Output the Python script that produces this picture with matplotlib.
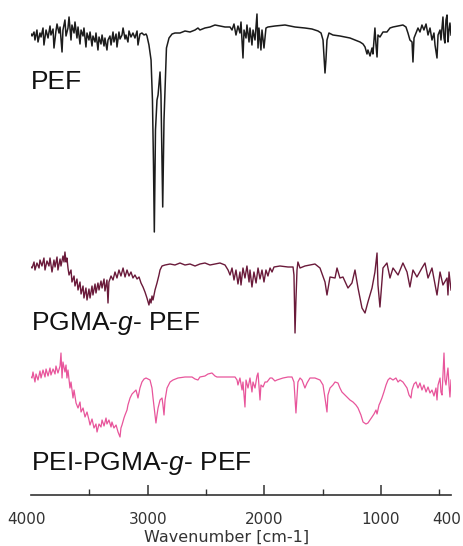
import numpy as np
import matplotlib
matplotlib.use("Agg")
import matplotlib.pyplot as plt
from matplotlib.transforms import ScaledTranslation

# FT-IR spectra: wavenumber [cm-1] and relative transmittance (a.u.)
pef_wn = [4000, 3991, 3974, 3966, 3949, 3940, 3923, 3914, 3897, 3889, 3871, 3854, 3837, 3829,
          3811, 3803, 3786, 3777, 3760, 3751, 3734, 3726, 3709, 3700, 3683, 3674, 3657, 3649,
          3631, 3623, 3606, 3597, 3580, 3571, 3554, 3546, 3529, 3520, 3503, 3494, 3477, 3469,
          3451, 3443, 3426, 3417, 3400, 3391, 3374, 3366, 3349, 3340, 3323, 3314, 3297, 3289,
          3271, 3263, 3246, 3237, 3220, 3211, 3194, 3186, 3169, 3160, 3143, 3126, 3109, 3091,
          3083, 3066, 3049, 3031, 3014, 3006,
          2989, 2971, 2959, 2950, 2943, 2933, 2920, 2911, 2899, 2894, 2886, 2871, 2860, 2851,
          2839, 2817, 2791,
          2766, 2723, 2680, 2637, 2594, 2569, 2552, 2509, 2466, 2423, 2380, 2337, 2294,
          2277, 2260, 2243, 2226, 2209, 2200, 2183, 2174, 2157, 2149, 2131, 2123, 2106, 2097,
          2080, 2063, 2054, 2046, 2029, 2020, 2003, 1986, 1969,
          1909, 1823, 1737, 1652, 1592, 1540, 1514, 1497, 1489, 1480, 1472, 1463, 1446, 1412,
          1352, 1309, 1266, 1223, 1180, 1154, 1137, 1120, 1112, 1094, 1077, 1069, 1052, 1043,
          1034, 1026, 1009, 983, 949, 923, 897, 854, 812, 786, 769, 752, 734, 726, 717, 700,
          683, 666, 649, 632, 614, 597, 580, 563, 546, 537, 520, 511, 494, 486, 469, 460, 452,
          443, 434, 426, 417, 409, 400]
pef_t = [1, -1, 3, -5, 5, -7, 2, -2, 7, -10, 5, -3, 9, 0,
         6, -13, 4, 11, 2, 8, -17, 5, 15, -1, 7, 18, -5, 10,
         2, 13, -3, 8, -9, 5, -1, 7, -12, 2, -5, 3, -11, -1,
         -7, 2, -15, -2, -9, 0, -11, -3, -15, -5, -1, -10, 3, -7,
         1, -12, 3, -4, 0, 7, -4, 0, -7, 4, -2, 2, -3, 4,
         -10, 1, 2, 0, 1, -1,
         -10, -25, -65, -130, -197, -95, -65, -60, -43, -37, -60, -172, -85, -53,
         -13, -3, 1,
         2, 2, 4, 3, 5, 7, 5, 7, 8, 10, 9, 8, 8,
         5, 11, 0, 9, 2, 13, -23, 5, -3, 10, -7, 7, -10, 5,
         -5, 21, -13, 7, -15, 5, -13, 7, 8,
         9, 10, 8, 7, 6, 4, 2, -5, -20, -38, -25, -5, 2, 0,
         -1, -2, -3, -5, -7, -9, -12, -19, -15, -21, -13, -19, 7, -10,
         -22, 0, -2, 3, 3, 7, 8, 9, 10, 8, 2, -5, -7, -27, -3, 2,
         7, 3, 10, 5, 11, 0, 7, -5, 2, -10, -23, 0, 5, -5, 18, -3, -8,
         15, 20, -7, 5, 12, 0]

pgma_wn = [4000, 3991, 3974, 3966, 3949, 3931, 3923, 3906, 3889, 3880, 3863, 3846, 3837, 3820,
           3803, 3794, 3777, 3769, 3751, 3743, 3726, 3717, 3709, 3700, 3692, 3683, 3674, 3657,
           3649, 3631, 3623, 3606, 3597, 3580, 3571, 3554, 3546, 3529, 3520, 3503, 3494, 3477,
           3469, 3451, 3443, 3426, 3417, 3400, 3391, 3374, 3366, 3349, 3340, 3332, 3314, 3297,
           3280, 3263, 3246, 3229, 3211, 3194, 3177, 3160, 3143, 3126, 3109, 3091, 3074, 3057,
           3040, 3023, 3006, 2989, 2980, 2971, 2963, 2954, 2937, 2920, 2903, 2894, 2877, 2851,
           2808, 2766, 2723, 2680, 2637, 2594, 2552, 2509, 2466, 2423, 2380, 2337, 2311, 2294,
           2277, 2260, 2243, 2226, 2209, 2200, 2183, 2166, 2149, 2131, 2123, 2106, 2089, 2071,
           2054, 2037, 2020, 2003, 1986, 1969, 1951, 1934, 1917, 1866, 1797, 1754, 1746, 1737,
           1729, 1720, 1712, 1694, 1652, 1609, 1566, 1523, 1480, 1463, 1437, 1394, 1377, 1352,
           1326, 1283, 1249, 1223, 1197, 1163, 1137, 1112, 1077, 1052, 1034, 1026, 1009, 983,
           949, 923, 897, 854, 812, 777, 752, 726, 692, 649, 623, 597, 563, 520, 494, 469, 434,
           426, 417, 400]
pgma_t = [-2, -3, 3, -5, 2, -3, 5, -1, 7, -5, 4, -1, 7, -7,
          5, -2, 8, -5, 6, -1, 9, 3, 13, 3, 7, -3, -10, -5,
          -17, -11, -21, -14, -25, -17, -29, -21, -33, -23, -35, -24, -33, -21,
          -30, -19, -28, -18, -25, -16, -23, -14, -26, -15, -38, -17, -11, -15,
          -7, -13, -5, -11, -3, -12, -5, -11, -7, -13, -10, -14, -12, -18,
          -22, -27, -33, -40, -34, -38, -31, -35, -25, -18, -10, -5, -1, 0,
          1, 0, 2, 0, 1, -1, 1, 2, 0, 1, 2, 0, -5, -10,
          -3, -15, -5, -19, -7, -20, -3, -13, -1, -17, -5, -22, -7, -18,
          -3, -14, -5, -17, -5, -11, -3, -7, -2, -1, -2, -2, -10, -68,
          -35, -5, 3, -3, -1, 0, 1, -3, -17, -30, -12, -13, -3, -13,
          -12, -23, -18, -5, -23, -43, -48, -37, -23, -7, 12, -20, -42, -3,
          2, -13, -3, -10, 2, -7, -22, -5, -12, -3, 2, -13, -3, -30, -7, -20, -13,
          -30, -7, -25]

pei_wn = [4000, 3991, 3983, 3966, 3957, 3940, 3923, 3914, 3897, 3880, 3871, 3854, 3837, 3829,
          3811, 3794, 3786, 3769, 3751, 3743, 3734, 3726, 3709, 3700, 3692, 3683, 3666, 3657,
          3640, 3631, 3614, 3597, 3580, 3571, 3554, 3537, 3520, 3503, 3494, 3477, 3460, 3443,
          3434, 3417, 3400, 3391, 3374, 3357, 3349, 3332, 3314, 3306, 3289, 3271, 3254, 3237,
          3229, 3220, 3203, 3194, 3177, 3169, 3151, 3134, 3117, 3100, 3091, 3083, 3066, 3049,
          3031, 3014, 2997, 2980, 2963, 2954, 2937, 2929, 2920, 2911, 2894, 2877, 2869, 2860,
          2851, 2834, 2808, 2783, 2740, 2680, 2620, 2594, 2569, 2552, 2509, 2483, 2449, 2423,
          2406, 2363, 2311, 2251, 2234, 2226, 2209, 2191, 2183, 2166, 2157, 2140, 2123, 2106,
          2097, 2080, 2063, 2054, 2037, 2029, 2011, 1994, 1977, 1951, 1934, 1909, 1892, 1866,
          1840, 1797, 1763, 1746, 1729, 1712, 1694, 1677, 1652, 1634, 1609, 1566, 1523, 1497,
          1480, 1463, 1455, 1437, 1412, 1394, 1369, 1352, 1335, 1309, 1292, 1266, 1240, 1215,
          1197, 1172, 1154, 1129, 1112, 1094, 1077, 1060, 1043, 1034, 1017, 1009, 992, 975,
          957, 940, 923, 897, 872, 854, 837, 812, 795, 777, 760, 743, 734, 717, 700, 683, 666,
          649, 632, 614, 597, 580, 563, 546, 529, 520, 511, 494, 486, 477, 469, 460, 452, 443,
          434, 426, 417, 409, 400]
pei_t = [0, -1, 5, -5, 3, -3, 6, -1, 7, 0, 8, 1, 9, 2,
         8, 3, 11, 4, 11, 24, -1, 15, 5, 12, -1, 7, -11, -5,
         -21, -13, -26, -31, -25, -35, -31, -40, -35, -43, -48, -42, -51, -47,
         -55, -47, -50, -43, -49, -41, -47, -43, -50, -45, -51, -48, -55, -60,
         -51, -48, -41, -38, -33, -28, -21, -17, -15, -13, -17, -21, -11, -5,
         -2, -1, -2, -3, -11, -21, -38, -46, -38, -31, -23, -21, -28, -38,
         -23, -11, -5, -3, -1, 0, 0, -2, -3, 0, 1, 3, 4, 1,
         0, 0, 0, 0, -3, -8, -1, -13, -5, -30, -3, -11, -1, -15,
         -5, -11, 1, 4, -23, -8, -10, -5, -5, -1, -1, -4, -3, -2,
         -1, 0, 0, -5, -36, -5, -1, -3, -11, -6, -1, -1, -3, -8,
         -21, -35, -18, -11, -8, -5, -6, -11, -15, -18, -20, -23, -25, -28,
         -31, -38, -45, -47, -46, -43, -40, -37, -33, -37, -28, -26, -21, -15,
         -8, -3, -1, -3, -1, -5, -3, -5, -8, -11, -18, -21, -13, -7, -5, -11, -6,
         -13, -8, -15, -10, -16, -13, -19, -11, -23, -8, -1, -15, -18, 2, 24, -3, -8,
         2, 9, -8, -20, -3]

names = ["PEF", r"PGMA-$\mathit{g}$- PEF", r"PEI-PGMA-$\mathit{g}$- PEF"]
colors = ["#1c1c1c", "#6a1a3a", "#e8559b"]
offsets = [-35, -265, -377]        # vertical stacking of the traces
label_base = [89, 330, 470]        # label baselines, pixels from top

plt.rcParams["mathtext.fontset"] = "custom"
plt.rcParams["mathtext.rm"] = "Liberation Sans"
plt.rcParams["mathtext.it"] = "Liberation Sans:italic"

W, H = 463, 546
fig = plt.figure(figsize=(W / 100, H / 100), dpi=100)
ax = fig.add_axes([31 / W, (H - 495) / H, 420 / W, 495 / H])

spectra = [(pef_wn, pef_t), (pgma_wn, pgma_t), (pei_wn, pei_t)]
for (wn, t), off, c, lw in zip(spectra, offsets, colors, [1.1, 1.0, 0.9]):
    ax.plot(wn, np.array(t) + off, color=c, lw=lw)

ax.set_xlim(4000, 400)
ax.set_ylim(-495, 0)
for s in ["left", "right", "top"]:
    ax.spines[s].set_visible(False)
ax.spines["bottom"].set_color("#333333")
ax.spines["bottom"].set_linewidth(1.2)
ax.set_yticks([])

ax.set_xticks([4000, 3000, 2000, 1000, 400])
ax.set_xticklabels(["4000", "3000", "2000", "1000", "400"])
ax.set_xticks([3500, 2500, 1500, 500], minor=True)
ax.tick_params(axis="x", which="major", direction="in", length=7, width=1.1,
               color="#333333", pad=12, labelsize=11, labelcolor="#333333")
ax.tick_params(axis="x", which="minor", direction="in", length=4, width=1.0,
               color="#333333")
majors = ax.xaxis.get_major_ticks()
majors[0].tick1line.set_visible(False)
majors[-1].tick1line.set_visible(False)

# end labels sit a little inside the figure
lbls = ax.get_xticklabels()
lbls[0].set_transform(lbls[0].get_transform() + ScaledTranslation(-4 / 100, 0, fig.dpi_scale_trans))
lbls[-1].set_transform(lbls[-1].get_transform() + ScaledTranslation(-4 / 100, 0, fig.dpi_scale_trans))

for name, yb in zip(names, label_base):
    fig.text(31 / W, (H - yb) / H, name, fontsize=19, family="Liberation Sans",
             va="baseline", ha="left", color="#111111")

fig.text(227 / W, 4 / H, "Wavenumber [cm-1]", fontsize=11.5, family="DejaVu Sans",
         ha="center", va="baseline", color="#333333")

fig.savefig("out.png", dpi=100)
